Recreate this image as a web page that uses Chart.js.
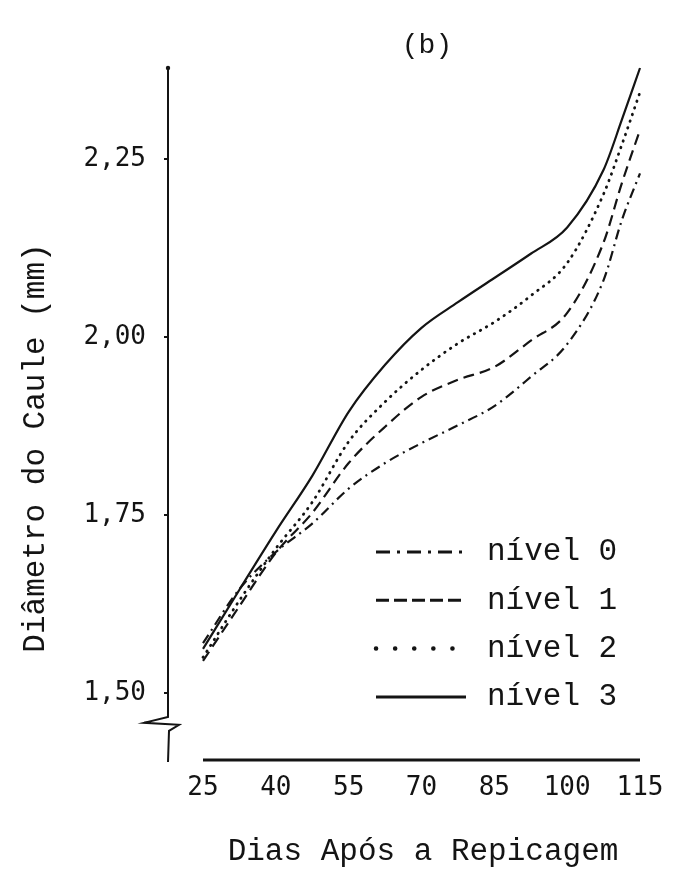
<!DOCTYPE html>
<html>
<head>
<meta charset="utf-8">
<script src="https://cdn.jsdelivr.net/npm/chart.js@4.4.0/dist/chart.umd.min.js"></script>
<style>
  html, body { margin: 0; padding: 0; background: #fff; }
  #wrap { width: 686px; height: 879px; }
</style>
</head>
<body>
<div id="wrap"><canvas id="myChart" width="686" height="879"></canvas></div>
<script>
// days after transplanting
const days = [25, 32.5, 40, 47.5, 55, 62.5, 70, 77.5, 85, 92.5, 100, 107.5, 111.25, 115];
// stem diameter (mm) per level
const nivel0 = [1.570, 1.646, 1.698, 1.738, 1.787, 1.823, 1.851, 1.876, 1.903, 1.944, 1.990, 2.080, 2.164, 2.230];
const nivel1 = [1.545, 1.622, 1.697, 1.753, 1.823, 1.874, 1.916, 1.940, 1.958, 1.995, 2.034, 2.133, 2.216, 2.291];
const nivel2 = [1.550, 1.630, 1.703, 1.768, 1.853, 1.909, 1.954, 1.991, 2.021, 2.058, 2.104, 2.201, 2.270, 2.344];
const nivel3 = [1.562, 1.645, 1.727, 1.805, 1.895, 1.961, 2.013, 2.049, 2.083, 2.117, 2.154, 2.235, 2.305, 2.378];
const xTicks = [25, 40, 55, 70, 85, 100, 115];
const yTicks = [1.50, 1.75, 2.00, 2.25];
const labels = ['nível 0', 'nível 1', 'nível 2', 'nível 3'];

const ink = '#141414';
const mono = '"Liberation Mono", "Courier New", monospace';
const tickFont = '"DejaVu Sans Mono", monospace';

const toPts = arr => arr.map((v, i) => ({ x: days[i], y: v }));

const styles = [
  { dash: [10, 5, 2, 5], width: 2.2, cap: 'butt', legendDash: [14, 7, 3, 7], legendWidth: 3 },
  { dash: [11, 6], width: 2.2, cap: 'butt', legendDash: [13, 5], legendWidth: 3 },
  { dash: [0.5, 6.5], width: 2.8, cap: 'round', legendDash: [0.1, 19], legendWidth: 4.5 },
  { dash: [], width: 2.2, cap: 'butt', legendDash: [], legendWidth: 3 }
];

const series = [nivel0, nivel1, nivel2, nivel3];

const decor = {
  id: 'decor',
  afterDraw(chart) {
    const { ctx, chartArea: a, scales: { x, y } } = chart;
    ctx.save();
    ctx.strokeStyle = ink;
    ctx.fillStyle = ink;

    // y axis with break mark
    const yb = y.getPixelForValue(1.458);
    ctx.lineWidth = 2;
    ctx.beginPath();
    ctx.moveTo(a.left, a.top);
    ctx.lineTo(a.left, yb - 6);
    ctx.lineTo(a.left - 24, yb);
    ctx.lineTo(a.left + 11, yb + 2);
    ctx.lineTo(a.left + 1, yb + 8);
    ctx.lineTo(a.left, a.bottom);
    ctx.stroke();
    ctx.beginPath();
    ctx.arc(a.left, a.top, 2.2, 0, Math.PI * 2);
    ctx.fill();

    // x axis
    ctx.lineWidth = 3.2;
    ctx.beginPath();
    ctx.moveTo(x.getPixelForValue(25), a.bottom - 2);
    ctx.lineTo(x.getPixelForValue(115), a.bottom - 2);
    ctx.stroke();

    // panel label
    ctx.font = '28px ' + mono;
    ctx.textAlign = 'center';
    ctx.textBaseline = 'middle';
    ctx.fillText('(b)', 427, 46);

    // axis titles
    ctx.font = '31px ' + mono;
    ctx.fillText('Dias Após a Repicagem', 423, 852);
    ctx.save();
    ctx.translate(36, 448);
    ctx.rotate(-Math.PI / 2);
    ctx.fillText('Diâmetro do Caule (mm)', 0, 0);
    ctx.restore();

    // legend
    ctx.font = '31px ' + mono;
    ctx.textAlign = 'left';
    labels.forEach((lab, i) => {
      const ly = 552 + i * 48.3;
      const s = styles[i];
      ctx.save();
      ctx.lineWidth = s.legendWidth;
      ctx.lineCap = s.cap;
      ctx.setLineDash(s.legendDash);
      ctx.beginPath();
      ctx.moveTo(376, ly);
      ctx.lineTo(466, ly);
      ctx.stroke();
      ctx.restore();
      ctx.fillText(lab, 487, ly);
    });
    ctx.restore();
  }
};

new Chart(document.getElementById('myChart').getContext('2d'), {
  type: 'line',
  data: {
    datasets: series.map((arr, i) => ({
      label: labels[i],
      data: toPts(arr),
      borderColor: ink,
      borderWidth: styles[i].width,
      borderDash: styles[i].dash,
      borderCapStyle: styles[i].cap,
      pointRadius: 0,
      cubicInterpolationMode: 'monotone',
      fill: false,
      clip: false
    }))
  },
  options: {
    responsive: false,
    animation: false,
    layout: { padding: { top: 68, right: 46, left: 0, bottom: 0 } },
    plugins: {
      legend: { display: false },
      title: { display: false },
      tooltip: { enabled: false }
    },
    scales: {
      x: {
        type: 'linear',
        min: 17.79,
        max: 115,
        afterBuildTicks: s => { s.ticks = xTicks.map(v => ({ value: v })); },
        afterFit: s => { s.height = 117; },
        border: { display: false },
        grid: { display: false, drawTicks: false },
        ticks: { color: ink, font: { family: tickFont, size: 26 }, padding: 11, maxRotation: 0 }
      },
      y: {
        min: 1.403,
        max: 2.378,
        afterBuildTicks: s => { s.ticks = yTicks.map(v => ({ value: v })); },
        afterFit: s => { s.width = 168; },
        border: { display: false },
        grid: { display: true, drawOnChartArea: false, drawTicks: true, tickLength: 4, color: ink, lineWidth: 2 },
        ticks: {
          color: ink,
          font: { family: tickFont, size: 26 },
          padding: 18,
          callback: v => v.toFixed(2).replace('.', ',')
        }
      }
    }
  },
  plugins: [decor]
});
</script>
</body>
</html>
